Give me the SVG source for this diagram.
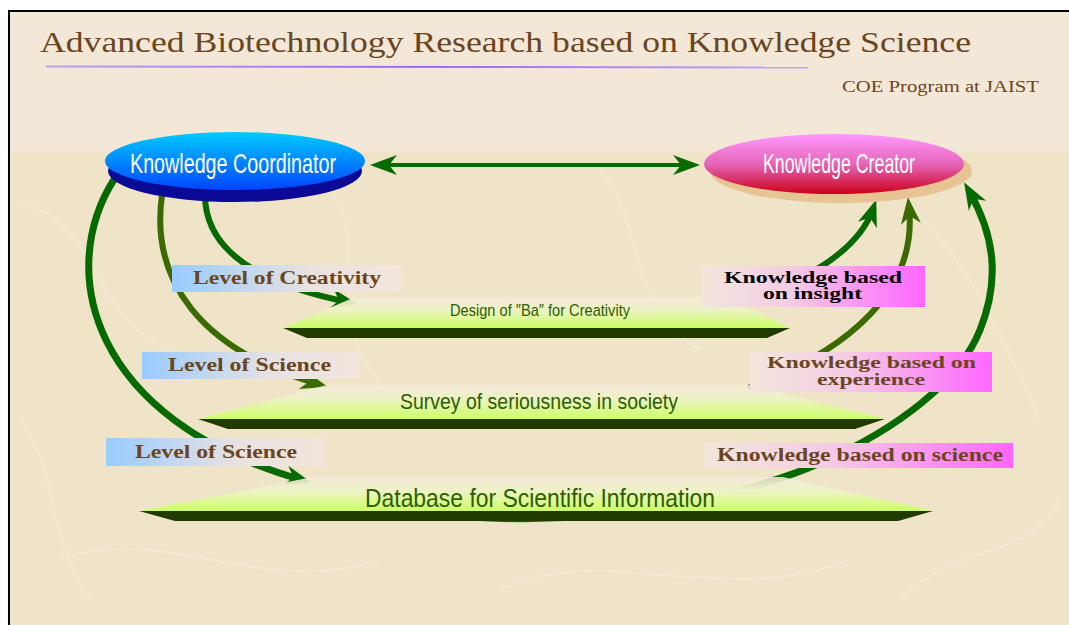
<svg xmlns="http://www.w3.org/2000/svg" width="1069" height="625" viewBox="0 0 1069 625">
<style>
.title{font-family:"Liberation Serif","Times New Roman",serif;fill:#6b4520;}
.node{font-family:"Liberation Sans",Arial,sans-serif;fill:#ffffff;font-size:28px;}
.plate{font-family:"Liberation Sans",Arial,sans-serif;fill:#2e5e00;}
.lab{font-family:"Liberation Serif","Times New Roman",serif;font-weight:bold;font-size:18px;fill:#6b4520;}
.lab2{font-family:"Liberation Serif","Times New Roman",serif;font-weight:bold;font-size:16px;fill:#6b4520;}
.labk{font-family:"Liberation Serif","Times New Roman",serif;font-weight:bold;font-size:16px;fill:#000000;}
.c1{fill:none;stroke:#076a00;}
.c2{fill:none;stroke:#3a6a00;}
.band{fill:#203a00;}
.face{fill:url(#gFace);}
</style>
<defs>
<linearGradient id="gFace" x1="0" y1="0" x2="0" y2="1">
<stop offset="0" stop-color="#f4ebda" stop-opacity="0.85"/>
<stop offset="0.4" stop-color="#eef2c6"/>
<stop offset="1" stop-color="#ccff66"/>
</linearGradient>
<linearGradient id="gBlue" x1="0" y1="0" x2="0" y2="1">
<stop offset="0" stop-color="#00ccff"/>
<stop offset="1" stop-color="#0044ff"/>
</linearGradient>
<linearGradient id="gPink" x1="0" y1="0" x2="0" y2="1">
<stop offset="0" stop-color="#ff99ff"/>
<stop offset="0.5" stop-color="#e565b8"/>
<stop offset="1" stop-color="#cc0018"/>
</linearGradient>
<linearGradient id="gLabBlue" x1="0" y1="0" x2="1" y2="0">
<stop offset="0" stop-color="#99ccff"/>
<stop offset="0.6" stop-color="#e8e2e2"/>
<stop offset="1" stop-color="#f2e6dc"/>
</linearGradient>
<linearGradient id="gLabPink" x1="0" y1="0" x2="1" y2="0">
<stop offset="0" stop-color="#f2e6dc"/>
<stop offset="0.4" stop-color="#f4cce4"/>
<stop offset="1" stop-color="#ff66ff"/>
</linearGradient>
<linearGradient id="gLine" x1="0" y1="0" x2="1" y2="0">
<stop offset="0" stop-color="#b9a0f0"/>
<stop offset="0.5" stop-color="#9a6cf4"/>
<stop offset="1" stop-color="#c0a8f0"/>
</linearGradient>
<marker id="m1" viewBox="-20 -12 32 24" refX="0" refY="0" markerWidth="32" markerHeight="24" markerUnits="userSpaceOnUse" orient="auto-start-reverse">
<path d="M10,0 L-17,-10 L-9,0 L-17,10 Z" fill="#076a00"/>
</marker>
<marker id="m2" viewBox="-20 -12 32 24" refX="0" refY="0" markerWidth="32" markerHeight="24" markerUnits="userSpaceOnUse" orient="auto">
<path d="M10,0 L-17,-10 L-9,0 L-17,10 Z" fill="#3a6a00"/>
</marker>
</defs>

<!-- background -->
<rect x="9" y="11" width="1070" height="620" fill="#efe3c8" stroke="#000" stroke-width="2"/>
<rect x="10" y="12" width="1060" height="140" fill="#f3e8d8"/>
<g fill="none" stroke="#ffffff" stroke-opacity="0.22" stroke-width="2">
<path d="M20 200 C120 240 80 330 200 360"/>
<path d="M330 190 C380 260 300 330 420 420"/>
<path d="M600 170 C650 230 620 300 700 350"/>
<path d="M880 180 C960 240 1000 330 1040 420"/>
<path d="M60 560 C160 520 260 600 380 560"/>
<path d="M500 590 C600 540 720 610 850 560"/>
<path d="M900 600 C960 540 1030 560 1060 500"/>
<path d="M20 420 C60 470 40 520 90 600"/>
</g>

<!-- title -->
<g id="title">
<text class="title" x="40" y="52" font-size="30" textLength="931" lengthAdjust="spacingAndGlyphs">Advanced Biotechnology Research based on Knowledge Science</text>
<line x1="46" y1="66.5" x2="808" y2="67.5" stroke="url(#gLine)" stroke-width="2"/>
<text class="title" x="842" y="92" font-size="16" textLength="197" lengthAdjust="spacingAndGlyphs">COE Program at JAIST</text>
</g>

<!-- connectors -->
<g id="connectors">
<line class="c1" x1="380" y1="165" x2="690" y2="165" stroke-width="4" marker-start="url(#m1)" marker-end="url(#m1)"/>
<path class="c1" d="M205 195 C205 250 258 284 348 302" stroke-width="6" marker-end="url(#m1)"/>
<path class="c2" d="M162 195 C150 280 200 350 318 384" stroke-width="6" marker-end="url(#m2)"/>
<path class="c1" d="M115 178 C55 270 90 420 302 480" stroke-width="7" marker-end="url(#m1)"/>
<path class="c1" d="M735 305 C800 285 858 252 873 209" stroke-width="6" marker-end="url(#m1)"/>
<path class="c2" d="M748 388 C850 350 918 290 909 207" stroke-width="6" marker-end="url(#m2)"/>
<path class="c1" d="M470 517 C620 527 760 490 820 463 C900 428 960 380 980 330 C1000 280 995 236 969 191" stroke-width="7" marker-end="url(#m1)"/>
</g>

<!-- plates -->
<g id="plate-design">
<polygon class="band" points="283,328 790,328 767,338 307,338"/>
<polygon class="face" points="283,328 355,297 725,297 790,328"/>
<text class="plate" x="450" y="316" font-size="17" textLength="180" lengthAdjust="spacingAndGlyphs">Design of ″Ba″ for Creativity</text>
</g>
<g id="plate-survey">
<polygon class="band" points="198,419 885,419 855,429 228,429"/>
<polygon class="face" points="198,419 327,385 750,385 885,419"/>
<text class="plate" x="400" y="409" font-size="22" textLength="278" lengthAdjust="spacingAndGlyphs">Survey of seriousness in society</text>
</g>
<g id="plate-database">
<polygon class="band" points="139,511 933,511 898,521 175,521"/>
<polygon class="face" points="139,511 313,477 783,477 933,511"/>
<text class="plate" x="365" y="507" font-size="26" textLength="350" lengthAdjust="spacingAndGlyphs">Database for Scientific Information</text>
</g>

<!-- labels -->
<g id="label-creativity">
<rect x="172" y="265" width="229" height="27" fill="url(#gLabBlue)"/>
<text class="lab" x="193" y="284" textLength="188" lengthAdjust="spacingAndGlyphs">Level of Creativity</text>
</g>
<g id="label-science1">
<rect x="142" y="352" width="217" height="27" fill="url(#gLabBlue)"/>
<text class="lab" x="168" y="371" textLength="163" lengthAdjust="spacingAndGlyphs">Level of Science</text>
</g>
<g id="label-science2">
<rect x="106" y="438" width="219" height="28" fill="url(#gLabBlue)"/>
<text class="lab" x="135" y="458" textLength="162" lengthAdjust="spacingAndGlyphs">Level of Science</text>
</g>
<g id="label-insight">
<rect x="702" y="266" width="223" height="41" fill="url(#gLabPink)"/>
<text class="labk" x="724" y="283" textLength="178" lengthAdjust="spacingAndGlyphs">Knowledge based</text>
<text class="labk" x="763" y="299" textLength="99" lengthAdjust="spacingAndGlyphs">on insight</text>
</g>
<g id="label-experience">
<rect x="750" y="352" width="242" height="40" fill="url(#gLabPink)"/>
<text class="lab2" x="767" y="368" textLength="209" lengthAdjust="spacingAndGlyphs">Knowledge based on</text>
<text class="lab2" x="817" y="385" textLength="108" lengthAdjust="spacingAndGlyphs">experience</text>
</g>
<g id="label-science-knowledge">
<rect x="704" y="443" width="309" height="25" fill="url(#gLabPink)"/>
<text class="lab" x="717" y="461" textLength="286" lengthAdjust="spacingAndGlyphs">Knowledge based on science</text>
</g>

<!-- nodes -->
<g id="knowledge-coordinator">
<ellipse cx="235" cy="171" rx="127" ry="31" fill="#0a0a96"/>
<ellipse cx="235" cy="161" rx="130" ry="29" fill="url(#gBlue)"/>
<text class="node" x="130" y="173" textLength="206" lengthAdjust="spacingAndGlyphs">Knowledge Coordinator</text>
</g>
<g id="knowledge-creator">
<ellipse cx="841" cy="171" rx="131" ry="32" fill="#e6c494"/>
<ellipse cx="834" cy="164" rx="130" ry="30" fill="url(#gPink)"/>
<text class="node" x="763" y="173" textLength="152" lengthAdjust="spacingAndGlyphs">Knowledge Creator</text>
</g>
</svg>
